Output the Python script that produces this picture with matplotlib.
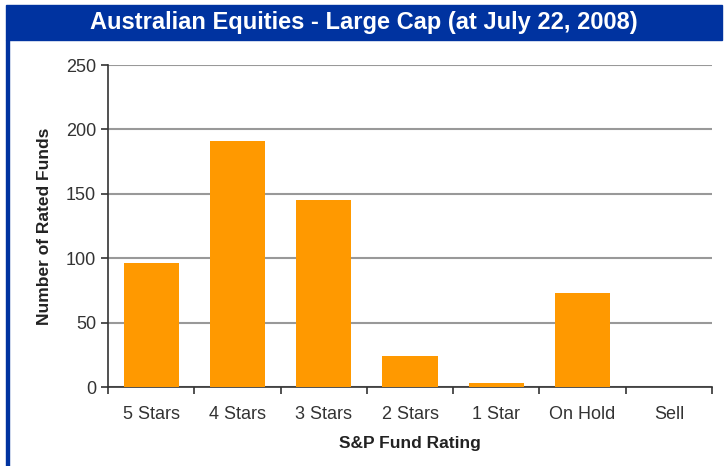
import matplotlib.pyplot as plt
from matplotlib.patches import Rectangle

plt.rcParams['font.family'] = ['Liberation Sans', 'DejaVu Sans']

categories = ['5 Stars', '4 Stars', '3 Stars', '2 Stars', '1 Star', 'On Hold', 'Sell']
funds = [96, 191, 145, 24, 3, 73, 0]
y_ticks = [0, 50, 100, 150, 200, 250]

blue = '#0033a0'

fig = plt.figure(figsize=(7.28, 4.66), dpi=100)
fig.patch.set_facecolor('white')

# header band and left border
fig.patches.append(Rectangle((6/728, 1 - 40/466), (722-6)/728, 35/466,
                             transform=fig.transFigure, color=blue, zorder=0))
fig.patches.append(Rectangle((6/728, 0), 3/728, 1 - 40/466,
                             transform=fig.transFigure, color=blue, zorder=0))
fig.text(0.5, 1 - 22/466, 'Australian Equities - Large Cap (at July 22, 2008)',
         color='white', fontsize=17, fontweight='bold', ha='center', va='center')

ax = fig.add_axes([108/728, 1 - 387/466, (712-108)/728, (387-65)/466])
x = list(range(len(categories)))
ax.bar(x, funds, width=0.64, color='#ff9900', zorder=3)

ax.set_xlim(-0.5, len(categories) - 0.5)
ax.set_ylim(0, 250)
ax.set_yticks(y_ticks)
ax.yaxis.grid(True, color='#999999', linewidth=1.5, zorder=0)
ax.set_xticks(x)
ax.set_xticklabels(categories)
ax.set_xticks([i - 0.5 for i in range(len(categories) + 1)], minor=True)
ax.tick_params(axis='x', which='major', length=0, pad=14, labelsize=13, labelcolor='#333333')
ax.tick_params(axis='x', which='minor', length=5, width=1.2, color='#333333')
ax.tick_params(axis='y', length=5, width=1.2, color='#333333', labelsize=13, labelcolor='#333333')

for s in ['top', 'right']:
    ax.spines[s].set_visible(False)
for s in ['left', 'bottom']:
    ax.spines[s].set_color('#333333')
    ax.spines[s].set_linewidth(1.2)

ax.set_xlabel('S&P Fund Rating', fontsize=12.5, fontweight='bold', color='#222222', labelpad=9)
ax.set_ylabel('Number of Rated Funds', fontsize=12.5, fontweight='bold', color='#222222', labelpad=10)

fig.savefig('out.png', dpi=100)
